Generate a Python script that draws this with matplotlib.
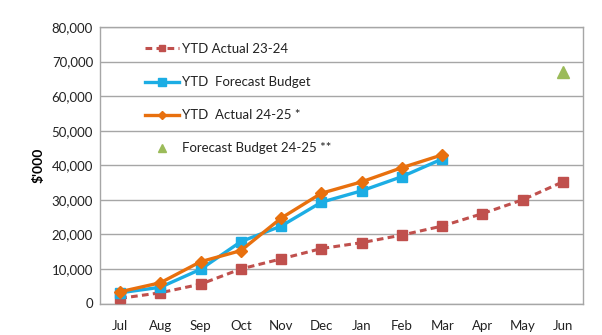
import matplotlib
matplotlib.use("Agg")
import matplotlib.pyplot as plt
from matplotlib.ticker import FuncFormatter

plt.rcParams['font.family'] = ['Lato', 'DejaVu Sans']

months = ["Jul", "Aug", "Sep", "Oct", "Nov", "Dec", "Jan", "Feb", "Mar", "Apr", "May", "Jun"]
actual_23_24 = [1500, 3100, 5600, 10000, 12900, 15900, 17600, 19800, 22400, 26000, 30000, 35200]
forecast_ytd = [3100, 4700, 9900, 17900, 22400, 29300, 32600, 36700, 41800]
actual_24_25 = [3400, 6000, 12100, 15300, 24700, 31900, 35200, 39300, 43000]
forecast_full_year = 67100

fig = plt.figure(figsize=(6.02, 3.35), dpi=100)
ax = fig.add_axes([100/602, 31.5/335, 483/602, 276.5/335])

x = list(range(len(months)))
ax.plot(x, actual_23_24, color="#C0504D", lw=2.2, ls=(0, (2.2, 1.4)),
        marker="s", ms=6.5, mec="#C0504D", mfc="#C0504D", label="YTD Actual 23-24", zorder=3)
ax.plot(x[:len(forecast_ytd)], forecast_ytd, color="#1CADE4", lw=2.4,
        marker="s", ms=7, mec="#1CADE4", mfc="#1CADE4", label="YTD  Forecast Budget", zorder=4)
ax.plot(x[:len(actual_24_25)], actual_24_25, color="#E8700E", lw=2.4,
        marker="D", ms=6, mec="#E8700E", mfc="#E8700E", label="YTD  Actual 24-25 *", zorder=5)
ax.plot([x[-1]], [forecast_full_year], ls="none", marker="^", ms=8,
        color="#9BBB59", label="Forecast Budget 24-25 **", zorder=5)

ax.set_xlim(-0.5, len(months) - 0.5)
ax.set_ylim(0, 80000)
ax.set_yticks(range(0, 80001, 10000))
ax.yaxis.set_major_formatter(FuncFormatter(lambda v, p: f"{int(v):,}"))
ax.set_xticks(x)
ax.set_xticklabels(months)
ax.tick_params(axis="both", length=0, labelsize=9.5, colors="#222222")
ax.tick_params(axis="x", pad=12)
ax.tick_params(axis="y", pad=5)

ax.grid(axis="y", color="#A6A6A6", lw=1)
ax.set_axisbelow(True)
for s in ax.spines.values():
    s.set_color("#A6A6A6")
    s.set_linewidth(1)

ax.set_ylabel("$'000", fontsize=10, fontweight="bold", labelpad=5)

leg = ax.legend(loc="upper left", bbox_to_anchor=(0.068, 0.985), frameon=False,
                fontsize=9.5, labelspacing=1.6, handlelength=2.6, handletextpad=0.2,
                markerscale=0.75)
for t in leg.get_texts():
    t.set_color("#222222")

fig.savefig("out.png", dpi=100)
